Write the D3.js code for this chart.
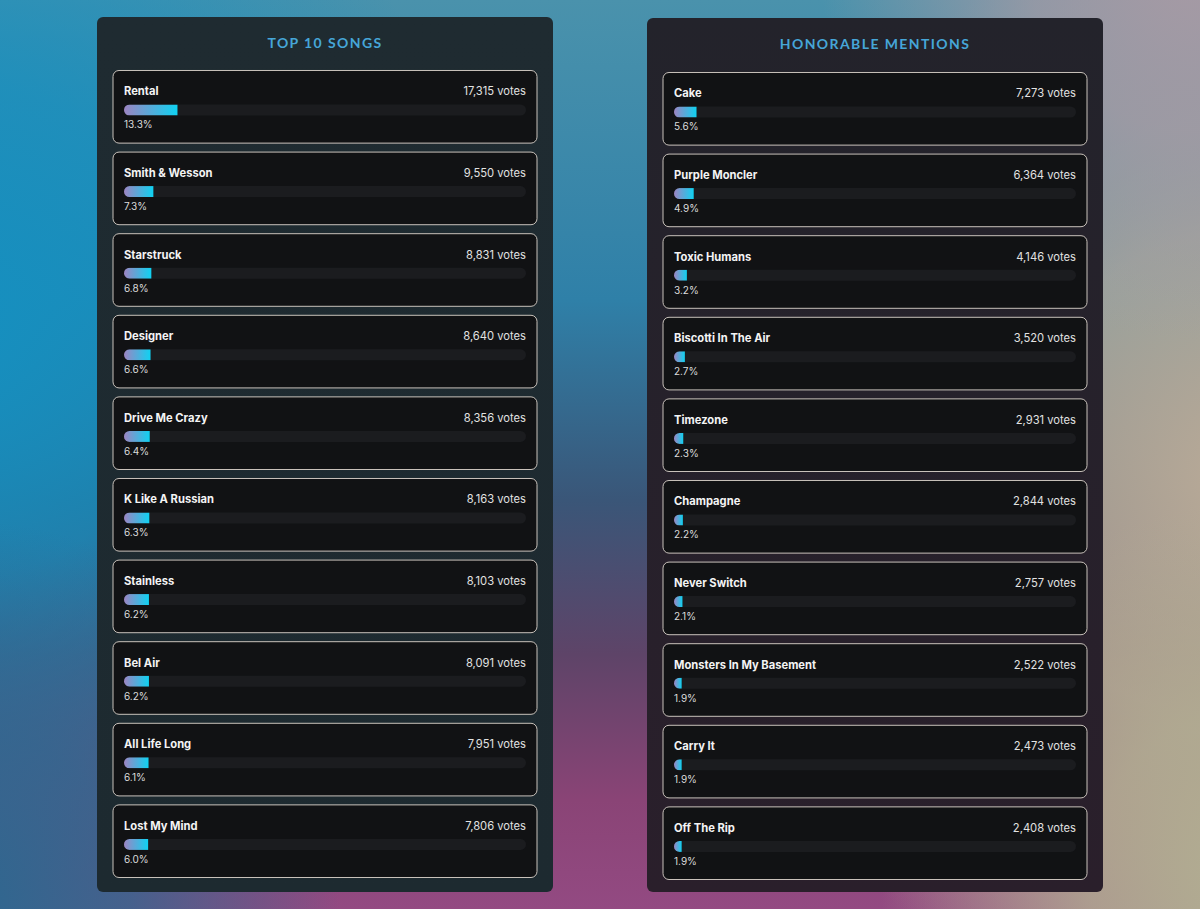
<!DOCTYPE html>
<html>
<head>
<meta charset="utf-8">
<script src="https://cdn.jsdelivr.net/npm/d3@7"></script>
<style>
  html, body { margin: 0; padding: 0; overflow: hidden; }
  body { width: 1200px; height: 909px; }
</style>
</head>
<body>
<div id="chart"></div>
<script>
// data
const topSongs = ["Rental", "Smith & Wesson", "Starstruck", "Designer", "Drive Me Crazy",
  "K Like A Russian", "Stainless", "Bel Air", "All Life Long", "Lost My Mind"];
const topVotes = [17315, 9550, 8831, 8640, 8356, 8163, 8103, 8091, 7951, 7806];
const topPct = [13.3, 7.3, 6.8, 6.6, 6.4, 6.3, 6.2, 6.2, 6.1, 6.0];

const honorSongs = ["Cake", "Purple Moncler", "Toxic Humans", "Biscotti In The Air", "Timezone",
  "Champagne", "Never Switch", "Monsters In My Basement", "Carry It", "Off The Rip"];
const honorVotes = [7273, 6364, 4146, 3520, 2931, 2844, 2757, 2522, 2473, 2408];
const honorPct = [5.6, 4.9, 3.2, 2.7, 2.3, 2.2, 2.1, 1.9, 1.9, 1.9];

let width = 1200, height = 909;

let svg = d3.select('#chart')
  .append('svg')
  .attr('width', width)
  .attr('height', height);

const defs = svg.append('defs');

// background gradients
const base = defs.append('linearGradient')
  .attr('id', 'bgBase').attr('x1', 0).attr('y1', 0).attr('x2', 0).attr('y2', 1);
[[0, '#4a92ac'], [0.33, '#2f80a8'], [0.55, '#3a5678'], [0.72, '#5e4468'], [0.88, '#8a4476'], [1, '#934a82']]
  .forEach(s => base.append('stop').attr('offset', s[0]).attr('stop-color', s[1]));

function blob(id, color, cx, cy, r) {
  const g = defs.append('radialGradient')
    .attr('id', id).attr('gradientUnits', 'userSpaceOnUse')
    .attr('cx', cx).attr('cy', cy).attr('r', r);
  g.append('stop').attr('offset', 0).attr('stop-color', color).attr('stop-opacity', 1);
  g.append('stop').attr('offset', 0.45).attr('stop-color', color).attr('stop-opacity', 0.75);
  g.append('stop').attr('offset', 1).attr('stop-color', color).attr('stop-opacity', 0);
}
blob('bgLeft', '#1590c0', -60, 330, 560);
blob('bgLeftLow', '#2c6890', -40, 900, 380);
blob('bgRight', '#bcac98', 1260, 480, 560);
blob('bgTopRight', '#a89aa4', 1200, -40, 380);
blob('bgBotRight', '#b2b092', 1260, 880, 380);

svg.append('rect').attr('width', width).attr('height', height).attr('fill', 'url(#bgBase)');
['bgLeft', 'bgLeftLow', 'bgRight', 'bgTopRight', 'bgBotRight'].forEach(id => {
  svg.append('rect').attr('width', width).attr('height', height).attr('fill', `url(#${id})`);
});

// panel tints
function panelGrad(id, top, bottom) {
  const g = defs.append('linearGradient')
    .attr('id', id).attr('x1', 0).attr('y1', 0).attr('x2', 0).attr('y2', 1);
  g.append('stop').attr('offset', 0).attr('stop-color', top);
  g.append('stop').attr('offset', 1).attr('stop-color', bottom);
}
panelGrad('panelLeft', '#1f2b31', '#1d2a30');
panelGrad('panelRight', '#23232b', '#2a1f2b');

// bar fill gradient
const fillGrad = defs.append('linearGradient')
  .attr('id', 'barFill').attr('x1', 0).attr('y1', 0).attr('x2', 1).attr('y2', 0);
fillGrad.append('stop').attr('offset', 0).attr('stop-color', '#9d84c2');
fillGrad.append('stop').attr('offset', 1).attr('stop-color', '#0fd2f2');

const fmt = d3.format(',');

function drawPanel(opts) {
  const { x, y, w, h, title, names, votes, pct, cardTop, id, fill } = opts;
  const panel = svg.append('g').attr('transform', `translate(${x},${y})`);

  panel.append('rect')
    .attr('width', w).attr('height', h)
    .attr('rx', 6)
    .attr('fill', fill);

  panel.append('text')
    .text(title)
    .attr('x', w / 2)
    .attr('y', 31)
    .attr('text-anchor', 'middle')
    .attr('font-family', 'Lato, sans-serif')
    .attr('font-weight', 700)
    .attr('font-size', 14)
    .attr('letter-spacing', 1.4)
    .attr('fill', '#46a6d8');

  const cardX = 16, cardW = w - 32;

  // vertical placement of cards
  const yScale = d3.scaleBand()
    .domain(names)
    .range([cardTop, cardTop + 81.6 * names.length])
    .paddingInner(0.11)
    .paddingOuter(0.055);

  const pad = 11;
  const trackW = cardW - pad * 2;
  const xScale = d3.scaleLinear().domain([0, 100]).range([0, trackW]);

  const cards = panel.selectAll('.card')
    .data(names.map((n, i) => ({ name: n, votes: votes[i], pct: pct[i], i })))
    .enter()
    .append('g')
    .attr('class', 'card')
    .attr('transform', d => `translate(${cardX},${yScale(d.name)})`);

  cards.append('rect')
    .attr('width', cardW)
    .attr('height', yScale.bandwidth())
    .attr('rx', 6)
    .attr('fill', '#111214')
    .attr('stroke', '#c9c2bb')
    .attr('stroke-width', 1);

  cards.append('text')
    .text(d => d.name)
    .attr('x', pad)
    .attr('y', 25)
    .attr('font-family', 'Inter, sans-serif')
    .attr('font-weight', 700)
    .attr('font-size', 11.2)
    .attr('fill', '#f4f4f4');

  cards.append('text')
    .text(d => fmt(d.votes) + ' votes')
    .attr('x', cardW - pad)
    .attr('y', 25)
    .attr('text-anchor', 'end')
    .attr('font-family', 'Inter, sans-serif')
    .attr('font-size', 11.2)
    .attr('fill', '#e2e2e2');

  // clip each fill to the rounded track
  cards.each(function(d) {
    defs.append('clipPath')
      .attr('id', `clip-${id}-${d.i}`)
      .append('rect')
      .attr('width', trackW).attr('height', 11).attr('rx', 5.5);
  });

  const track = cards.append('g')
    .attr('transform', `translate(${pad},34)`);

  track.append('rect')
    .attr('width', trackW).attr('height', 11).attr('rx', 5.5)
    .attr('fill', '#1b1c1f');

  track.append('rect')
    .attr('clip-path', d => `url(#clip-${id}-${d.i})`)
    .attr('width', d => xScale(d.pct))
    .attr('height', 11)
    .attr('fill', 'url(#barFill)');

  cards.append('text')
    .text(d => d.pct.toFixed(1) + '%')
    .attr('x', pad)
    .attr('y', 58)
    .attr('font-family', 'Inter, sans-serif')
    .attr('font-size', 10)
    .attr('fill', '#dcdcdc');
}

drawPanel({ x: 97, y: 17, w: 456, h: 875, title: 'TOP 10 SONGS', fill: 'url(#panelLeft)',
  names: topSongs, votes: topVotes, pct: topPct, cardTop: 49, id: 'top' });

drawPanel({ x: 647, y: 18, w: 456, h: 874, title: 'HONORABLE MENTIONS', fill: 'url(#panelRight)',
  names: honorSongs, votes: honorVotes, pct: honorPct, cardTop: 50, id: 'hon' });
</script>
</body>
</html>
